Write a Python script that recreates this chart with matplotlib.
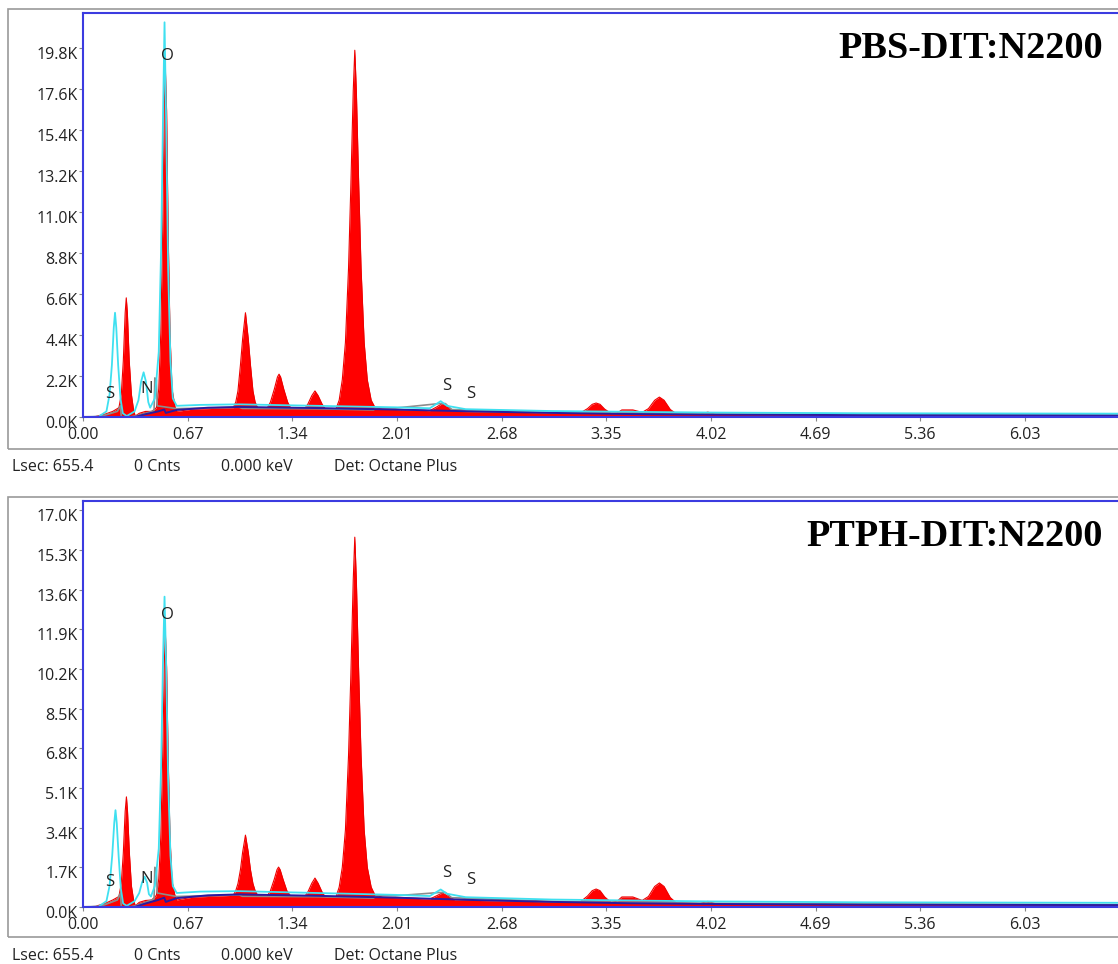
import numpy as np
import matplotlib.pyplot as plt
import matplotlib.patches as patches
import matplotlib.transforms as mtransforms
from matplotlib.ticker import FuncFormatter

# energy ticks (keV)
x_ticks = [0.00, 0.67, 1.34, 2.01, 2.68, 3.35, 4.02, 4.69, 5.36, 6.03]

# ---- top panel: PBS-DIT:N2200 (counts in K) ----
top_title = 'PBS-DIT:N2200'
top_yticks = [0.0, 2.2, 4.4, 6.6, 8.8, 11.0, 13.2, 15.4, 17.6, 19.8]
top_ymax = 21.7

top_red = [(0.00, 0.0), (0.08, 0.03), (0.14, 0.15), (0.19, 0.3), (0.23, 0.5), (0.245, 1.2),
           (0.258, 3.0), (0.27, 5.6), (0.277, 6.4), (0.284, 5.6), (0.296, 3.0), (0.31, 1.2),
           (0.325, 0.3), (0.335, 0.05), (0.36, 0.2), (0.40, 0.3), (0.44, 0.3), (0.47, 0.5),
           (0.485, 1.5), (0.498, 4.5), (0.51, 10.0), (0.52, 16.5), (0.527, 18.8), (0.535, 16.5),
           (0.545, 10.0), (0.557, 4.5), (0.57, 1.5), (0.59, 0.5), (0.60, 0.3), (0.70, 0.42),
           (0.90, 0.48), (0.962, 0.5), (0.978, 0.8), (0.992, 1.4), (1.008, 2.8), (1.022, 4.2),
           (1.04, 5.6), (1.058, 4.2), (1.072, 2.8), (1.088, 1.4), (1.102, 0.8), (1.118, 0.5),
           (1.18, 0.48), (1.20, 0.8), (1.225, 1.5), (1.245, 2.15), (1.255, 2.3), (1.265, 2.15),
           (1.285, 1.5), (1.31, 0.8), (1.33, 0.47), (1.42, 0.46), (1.44, 0.7), (1.465, 1.15),
           (1.485, 1.4), (1.505, 1.15), (1.53, 0.7), (1.55, 0.45), (1.62, 0.45), (1.64, 0.9),
           (1.66, 2.0), (1.68, 4.0), (1.70, 8.0), (1.715, 12.5), (1.73, 17.5), (1.74, 19.7),
           (1.75, 17.5), (1.765, 12.5), (1.78, 8.0), (1.80, 4.0), (1.82, 2.0), (1.845, 0.9),
           (1.87, 0.5), (1.92, 0.42), (2.10, 0.38), (2.22, 0.34), (2.26, 0.52), (2.30, 0.72),
           (2.34, 0.52), (2.38, 0.3), (2.60, 0.27), (3.00, 0.22), (3.18, 0.2), (3.23, 0.45),
           (3.26, 0.68), (3.285, 0.75), (3.31, 0.68), (3.34, 0.42), (3.38, 0.2), (3.42, 0.22),
           (3.45, 0.38), (3.52, 0.38), (3.58, 0.25), (3.62, 0.45), (3.66, 0.9), (3.69, 1.07),
           (3.72, 0.9), (3.76, 0.4), (3.80, 0.17), (3.95, 0.15), (4.00, 0.26), (4.05, 0.14),
           (4.50, 0.12), (5.50, 0.1), (6.70, 0.08)]
top_cyan = [(0.00, 0.0), (0.10, 0.02), (0.15, 0.3), (0.17, 1.2), (0.185, 2.8), (0.197, 4.8),
            (0.205, 5.6), (0.213, 4.8), (0.225, 2.8), (0.24, 1.0), (0.255, 0.2), (0.28, 0.05),
            (0.33, 0.3), (0.355, 0.9), (0.372, 1.9), (0.388, 2.4), (0.403, 1.9), (0.418, 0.8),
            (0.43, 0.5), (0.46, 1.0), (0.485, 3.5), (0.50, 9.0), (0.512, 16.0), (0.522, 21.2),
            (0.532, 16.0), (0.545, 8.0), (0.56, 3.0), (0.575, 1.0), (0.60, 0.6), (0.75, 0.65),
            (1.00, 0.68), (1.50, 0.6), (2.00, 0.52), (2.22, 0.47), (2.29, 0.85), (2.33, 0.6),
            (2.45, 0.42), (3.00, 0.32), (4.00, 0.24), (5.00, 0.2), (6.70, 0.18)]
top_navy = [(0.33, 0.0), (0.40, 0.15), (0.48, 0.3), (0.52, 0.4), (0.53, 0.22), (0.60, 0.38),
            (0.80, 0.5), (1.00, 0.54), (1.50, 0.48), (2.00, 0.4), (2.50, 0.3), (3.00, 0.22),
            (3.50, 0.16), (4.00, 0.13), (5.00, 0.1), (6.70, 0.08)]
top_gray = [(0.10, 0.0), (0.22, 0.3), (0.24, 0.6), (0.245, 0.0), (0.30, 0.0), (0.36, 0.1),
            (0.44, 0.3), (0.455, 0.35), (0.46, 2.1), (0.47, 2.0), (0.475, 0.6), (0.60, 0.45),
            (1.00, 0.52), (1.02, 0.46), (1.50, 0.44), (1.86, 0.38), (1.88, 0.5), (2.00, 0.48),
            (2.28, 0.72), (2.32, 0.72), (2.36, 0.4), (3.00, 0.24), (4.00, 0.16), (6.70, 0.1)]
top_marks = [('O', 0.538, 19.4), ('S', 0.173, 1.23), ('N', 0.41, 1.5),
             ('S', 2.33, 1.66), ('S', 2.48, 1.23)]

# ---- bottom panel: PTPH-DIT:N2200 ----
bot_title = 'PTPH-DIT:N2200'
bot_yticks = [0.0, 1.7, 3.4, 5.1, 6.8, 8.5, 10.2, 11.9, 13.6, 15.3, 17.0]
bot_ymax = 17.4

bot_red = [(0.00, 0.0), (0.08, 0.03), (0.14, 0.15), (0.19, 0.3), (0.23, 0.45), (0.245, 1.0),
           (0.258, 2.3), (0.27, 4.1), (0.278, 4.72), (0.285, 4.1), (0.297, 2.3), (0.31, 0.9),
           (0.325, 0.25), (0.335, 0.05), (0.36, 0.2), (0.40, 0.28), (0.44, 0.3), (0.47, 0.5),
           (0.485, 1.2), (0.498, 3.0), (0.51, 6.5), (0.52, 10.3), (0.527, 11.8), (0.535, 10.3),
           (0.545, 6.5), (0.557, 3.0), (0.57, 1.1), (0.59, 0.45), (0.60, 0.3), (0.70, 0.42),
           (0.90, 0.48), (0.962, 0.5), (0.978, 0.7), (0.992, 1.0), (1.008, 1.6), (1.022, 2.35),
           (1.04, 3.08), (1.058, 2.35), (1.072, 1.6), (1.088, 1.0), (1.102, 0.7), (1.118, 0.5),
           (1.18, 0.47), (1.20, 0.7), (1.225, 1.2), (1.242, 1.6), (1.252, 1.71), (1.262, 1.6),
           (1.28, 1.2), (1.305, 0.7), (1.33, 0.46), (1.42, 0.45), (1.44, 0.65), (1.465, 1.02),
           (1.485, 1.24), (1.505, 1.02), (1.53, 0.65), (1.55, 0.44), (1.62, 0.44), (1.64, 0.85),
           (1.66, 1.7), (1.68, 3.3), (1.70, 6.5), (1.715, 10.0), (1.73, 14.0), (1.74, 15.85),
           (1.75, 14.0), (1.765, 10.0), (1.78, 6.5), (1.80, 3.3), (1.82, 1.7), (1.845, 0.85),
           (1.87, 0.5), (1.92, 0.42), (2.10, 0.38), (2.22, 0.34), (2.26, 0.47), (2.30, 0.6),
           (2.34, 0.45), (2.38, 0.3), (2.60, 0.27), (3.00, 0.22), (3.18, 0.2), (3.23, 0.47),
           (3.26, 0.7), (3.285, 0.77), (3.31, 0.7), (3.34, 0.43), (3.38, 0.2), (3.42, 0.25),
           (3.45, 0.43), (3.52, 0.43), (3.58, 0.28), (3.62, 0.45), (3.66, 0.88), (3.69, 1.03),
           (3.72, 0.88), (3.76, 0.4), (3.80, 0.17), (3.95, 0.15), (4.00, 0.24), (4.05, 0.14),
           (4.50, 0.12), (5.50, 0.1), (6.70, 0.08)]
bot_cyan = [(0.00, 0.0), (0.10, 0.02), (0.15, 0.25), (0.17, 0.9), (0.187, 2.2), (0.2, 3.6),
            (0.208, 4.15), (0.216, 3.6), (0.228, 2.2), (0.242, 0.8), (0.257, 0.15), (0.28, 0.05),
            (0.33, 0.25), (0.36, 0.6), (0.378, 1.05), (0.395, 1.3), (0.41, 1.05), (0.422, 0.55),
            (0.435, 0.45), (0.46, 0.9), (0.485, 2.5), (0.50, 6.0), (0.512, 10.5), (0.522, 13.3),
            (0.532, 10.5), (0.545, 5.5), (0.56, 2.2), (0.575, 0.9), (0.60, 0.6), (0.75, 0.66),
            (1.00, 0.68), (1.50, 0.6), (2.00, 0.52), (2.22, 0.47), (2.29, 0.75), (2.33, 0.57),
            (2.45, 0.42), (3.00, 0.32), (4.00, 0.24), (5.00, 0.2), (6.70, 0.18)]
bot_navy = [(0.33, 0.0), (0.40, 0.15), (0.48, 0.3), (0.52, 0.4), (0.53, 0.22), (0.60, 0.38),
            (0.80, 0.5), (1.00, 0.54), (1.50, 0.48), (2.00, 0.4), (2.50, 0.3), (3.00, 0.22),
            (3.50, 0.16), (4.00, 0.13), (5.00, 0.1), (6.70, 0.08)]
bot_gray = [(0.10, 0.0), (0.22, 0.3), (0.24, 0.6), (0.245, 0.0), (0.30, 0.0), (0.36, 0.1),
            (0.44, 0.3), (0.455, 0.35), (0.46, 1.7), (0.47, 1.6), (0.475, 0.6), (0.60, 0.45),
            (1.00, 0.52), (1.02, 0.46), (1.50, 0.44), (1.86, 0.38), (1.88, 0.5), (2.00, 0.48),
            (2.28, 0.62), (2.32, 0.62), (2.36, 0.4), (3.00, 0.24), (4.00, 0.16), (6.70, 0.1)]
bot_marks = [('O', 0.538, 12.5), ('S', 0.173, 1.07), ('N', 0.41, 1.2),
             ('S', 2.33, 1.46), ('S', 2.48, 1.16)]

W, H = 1118, 964
fig = plt.figure(figsize=(W / 100, H / 100), dpi=100)
ui_font = 'Open Sans'
blue = '#3b3be0'


def draw_panel(top_px, bot_px, frame_top, frame_bot, red, cyan, navy, gray,
               yticks, ymax, title, marks, status_y):
    # gray outer frame
    fig.patches.append(patches.Rectangle((8 / W, 1 - frame_bot / H), 1.2, (frame_bot - frame_top) / H,
                                         transform=fig.transFigure, fill=False,
                                         edgecolor='#9a9a9a', linewidth=1.2))
    ax = fig.add_axes([83 / W, 1 - bot_px / H, 1 - 83 / W, (bot_px - top_px) / H])
    r = np.array(red)
    c = np.array(cyan)
    n = np.array(navy)
    g = np.array(gray)
    ax.fill_between(r[:, 0], 0, r[:, 1], color='#ff0000', linewidth=0)
    ax.plot(r[:, 0], r[:, 1], color='#ee0000', linewidth=0.8)
    ax.plot(g[:, 0], g[:, 1], color='#8c8c8c', linewidth=1.2)
    ax.plot(n[:, 0], n[:, 1], color='#2a1aa0', linewidth=1.4)
    ax.plot(c[:, 0], c[:, 1], color='#3fe0f0', linewidth=1.3)
    ax.axhline(0.05, color='#ff3030', linewidth=0.8)

    ax.set_xlim(0, (W - 83) / 156.2)
    ax.set_ylim(0, ymax)
    ax.set_xticks(x_ticks)
    ax.set_xticklabels([f'{v:.2f}' for v in x_ticks])
    ax.set_yticks(yticks)
    ax.yaxis.set_major_formatter(FuncFormatter(lambda v, p: f'{v:.1f}K'))
    ax.tick_params(axis='both', direction='out', length=3, width=0.8, color='#888888',
                   labelsize=11.5, labelcolor='#222222', pad=1)
    ax.tick_params(axis='x', pad=4)
    # y labels sit a few pixels below their ticks in the original software
    shift = mtransforms.ScaledTranslation(0, -5 / 100, fig.dpi_scale_trans)
    for lab in ax.get_yticklabels():
        lab.set_transform(lab.get_transform() + shift)
    for lab in ax.get_xticklabels() + ax.get_yticklabels():
        lab.set_fontfamily(ui_font)
    for s in ['left', 'top', 'bottom']:
        ax.spines[s].set_color(blue)
        ax.spines[s].set_linewidth(1.5)
    ax.spines['right'].set_visible(False)

    for txt, xv, yv in marks:
        ax.text(xv, yv, txt, fontsize=12, family=ui_font, color='#222222',
                ha='center', va='center')

    ax.text(1103 / W, 1 - (top_px + 36) / H, title, transform=fig.transFigure,
            fontsize=27.5, fontweight='bold', family='Liberation Serif', ha='right', va='center')

    ys = 1 - status_y / H
    for xp, txt in [(12, 'Lsec: 655.4'), (134, '0 Cnts'), (221, '0.000 keV'), (334, 'Det: Octane Plus')]:
        fig.text(xp / W, ys, txt, fontsize=11.5, family=ui_font, color='#222222', va='center')


draw_panel(13, 417, 9, 449, top_red, top_cyan, top_navy, top_gray,
           top_yticks, top_ymax, top_title, top_marks, 467)
draw_panel(501, 907, 497, 937, bot_red, bot_cyan, bot_navy, bot_gray,
           bot_yticks, bot_ymax, bot_title, bot_marks, 956)

fig.savefig('out.png', dpi=100)
